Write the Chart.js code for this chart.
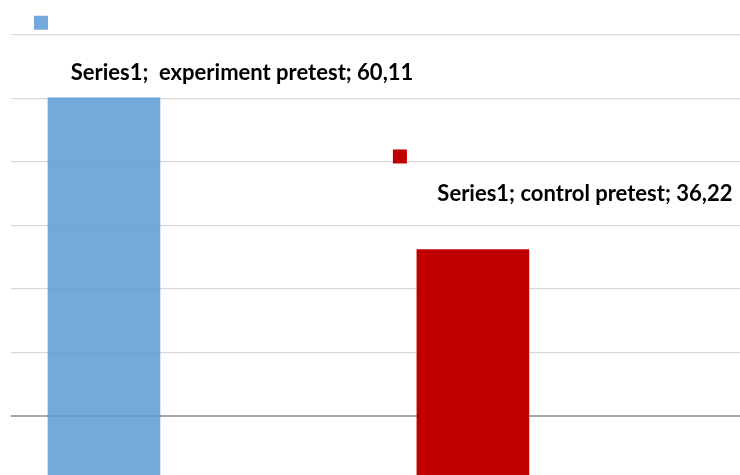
<!DOCTYPE html>
<html>
<head>
<meta charset="utf-8">
<script src="https://cdn.jsdelivr.net/npm/chart.js@4/dist/chart.umd.min.js"></script>
<style>
  html, body { margin: 0; padding: 0; background: #fff; }
  #wrap { width: 740px; height: 475px; }
</style>
</head>
<body>
<div id="wrap"><canvas id="chart"></canvas></div>
<script>
// data
const categories = ['experiment pretest', 'control pretest'];
const seriesName = 'Series1';
const values = [60.11, 36.22];
const gridValues = [10, 20, 30, 40, 50, 60, 70];
const barColors = ['rgba(91, 155, 213, 0.85)', '#c00000'];
const labelTexts = ['Series1;  experiment pretest; 60,11', 'Series1; control pretest; 36,22'];

// label / legend-key placement relative to each bar (px)
const labelOffsets = [{ dx: 138, dy: -25 }, { dx: 112, dy: -56 }];
const keyOffsets = [{ dx: -63, dy: -75 }, { dx: -73, dy: -93 }];

const labelPlugin = {
    id: 'barLabels',
    afterDatasetsDraw(chart) {
        const ctx = chart.ctx;
        const meta = chart.getDatasetMeta(0);
        ctx.save();
        ctx.font = 'bold 22px Lato, "Open Sans", sans-serif';
        ctx.textAlign = 'center';
        ctx.textBaseline = 'middle';
        meta.data.forEach((bar, i) => {
            const lo = labelOffsets[i];
            ctx.fillStyle = '#000';
            ctx.fillText(labelTexts[i], bar.x + lo.dx, bar.y + lo.dy);
            // small legend key next to the label
            const ko = keyOffsets[i];
            ctx.fillStyle = barColors[i];
            ctx.fillRect(bar.x + ko.dx - 7, bar.y + ko.dy - 7, 14, 14);
        });
        ctx.restore();
    }
};

const ctx = document.getElementById('chart').getContext('2d');

new Chart(ctx, {
    type: 'bar',
    data: {
        datasets: [{
            label: seriesName,
            data: values.map((v, i) => ({ x: i + 1, y: v, cat: categories[i] })),
            backgroundColor: barColors,
            borderWidth: 0,
            barThickness: 112,
        }]
    },
    options: {
        responsive: true,
        maintainAspectRatio: false,
        animation: false,
        layout: {
            padding: { top: 0, bottom: 0, left: 11, right: 0 }
        },
        plugins: {
            legend: { display: false },
            tooltip: { enabled: false },
        },
        scales: {
            x: {
                type: 'linear',
                min: 0.748,
                max: 2.724,
                offset: false,
                display: false,
            },
            y: {
                min: 0.71,
                max: 75.5,
                afterBuildTicks: (scale) => {
                    scale.ticks = gridValues.map(v => ({ value: v }));
                },
                ticks: { display: false },
                border: { display: false },
                grid: {
                    drawTicks: false,
                    color: (c) => c.tick && c.tick.value === 10 ? '#a6a6a6' : '#d9d9d9',
                    lineWidth: (c) => c.tick && c.tick.value === 10 ? 2 : 1.3,
                },
            },
        }
    },
    plugins: [labelPlugin]
});
</script>
</body>
</html>
